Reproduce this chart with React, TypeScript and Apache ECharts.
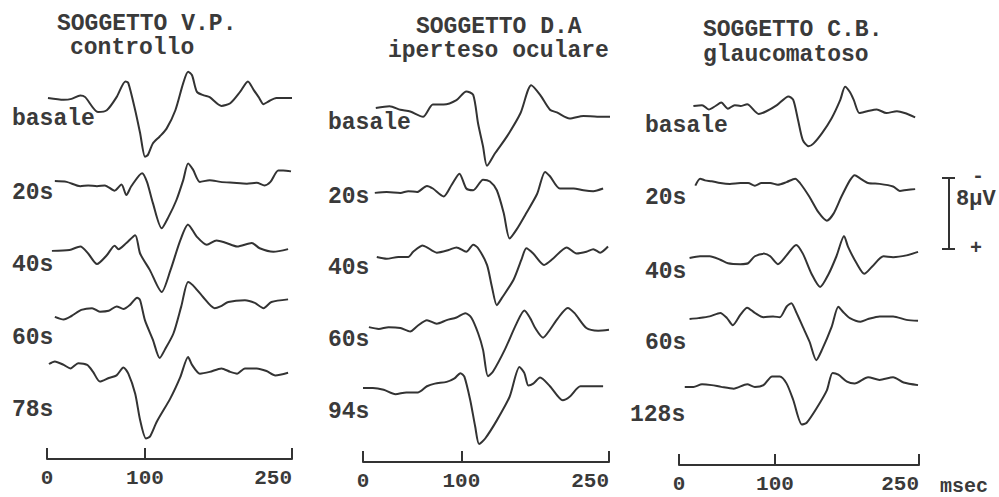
import React, { useEffect, useRef } from "react";
import * as echarts from "echarts";

// ---------- DATA (time in msec, amplitude in µV, positive = downward "+") ----------
const TICKS = [0, 100, 250];
const TICK_LABELS = ["0", "100", "250"];
const ROW_LABELS = [
  ["basale", "20s", "40s", "60s", "78s"],
  ["basale", "20s", "40s", "60s", "94s"],
  ["basale", "20s", "40s", "60s", "128s"],
];
const TITLES = [
  ["SOGGETTO V.P.", "controllo"],
  ["SOGGETTO D.A", "iperteso oculare"],
  ["SOGGETTO C.B.", "glaucomatoso"],
];

// Subject V.P. (controllo)
const vpBasale = [[1,0],[17,0.2],[25,0.1],[34,-0.3],[39,-0.1],[52,1.6],[61,1.4],[71,-0.1],[80,-1.9],[83,-1.7],[90,1.4],[95,4.0],[100,6.7],[103,6.5],[108,5.2],[115,4.4],[122,3.5],[131,1.4],[139,-1.7],[144,-3.0],[148,-2.6],[153,-0.7],[160,-0.3],[166,-0.1],[178,0.9],[187,0.6],[197,-0.7],[205,-1.9],[211,-0.9],[216,-0.1],[221,0.7],[226,0.4],[234,0.0],[250,0.0]];
const vp20 = [[8,0],[20,0.1],[34,0.6],[42,0.5],[51,0.6],[59,0.5],[69,1.1],[76,0.4],[81,1.6],[86,0.6],[97,-0.9],[102,0.1],[108,2.5],[117,5.4],[124,4.1],[132,2.2],[139,-0.1],[144,-2.0],[149,-1.3],[156,0.1],[166,-0.1],[177,0.1],[190,0.2],[204,0.3],[214,0.2],[222,0.5],[228,0.1],[236,-1.2],[241,-1.2],[249,-1.1]];
const vp40 = [[5,0.1],[23,0.0],[34,-0.4],[42,0.4],[51,1.6],[61,0.6],[69,-0.5],[73,-0.1],[81,-0.8],[90,-1.7],[95,0.4],[105,2.3],[117,4.8],[126,2.3],[136,-1.1],[144,-2.9],[153,-1.5],[163,-0.6],[173,-1.1],[183,-0.8],[194,-0.4],[209,-0.8],[217,-0.2],[231,0.2],[246,-0.1]];
const vp60 = [[8,0.1],[17,0.4],[25,0.0],[35,-0.7],[46,-0.9],[54,-0.5],[63,-0.6],[71,-1.1],[78,-0.8],[85,-1.3],[92,-2.1],[95,-1.8],[100,0.5],[108,2.7],[115,4.8],[120,3.9],[129,2.0],[137,-1.1],[144,-3.9],[149,-3.5],[159,-2.2],[171,-0.9],[177,-1.1],[185,-1.6],[202,-1.8],[212,-1.5],[221,-0.9],[229,-1.6],[246,-1.9]];
const vp78 = [[2,0.0],[8,-0.3],[17,0.1],[24,0.5],[32,-0.1],[41,0.1],[47,0.9],[54,2.0],[63,1.6],[71,1.3],[78,0.4],[83,1.1],[90,3.4],[95,6.4],[101,8.5],[105,8.3],[112,6.6],[126,3.9],[136,1.5],[144,-0.8],[148,0.1],[156,1.1],[166,0.9],[178,0.5],[187,0.9],[194,1.1],[202,0.5],[214,0.5],[224,0.8],[233,1.3],[246,1.0]];

// Subject D.A (iperteso oculare)
const daBasale = [[13,0.0],[27,-0.2],[38,0.2],[48,0.4],[61,1.0],[71,-0.4],[82,-0.4],[95,-0.9],[105,-1.9],[112,-1.5],[117,1.8],[122,4.4],[126,6.6],[134,5.2],[146,3.3],[160,0.6],[171,-2.6],[180,-1.5],[190,0.2],[197,0.5],[210,1.2],[224,0.9],[238,1.0],[252,1.0]];
const da20 = [[12,0.1],[24,0.0],[38,0.1],[46,-0.1],[55,0.0],[65,-0.7],[71,-0.4],[82,0.5],[90,-0.8],[98,-2.1],[105,-0.4],[112,-0.2],[122,-1.4],[129,-1.2],[136,-0.2],[143,2.4],[149,5.3],[156,4.3],[166,2.4],[177,0.2],[185,-2.3],[190,-1.8],[200,-0.4],[214,-0.4],[224,-0.2],[234,-0.1],[244,-0.4]];
const da40 = [[14,0.0],[24,0.2],[36,0.0],[46,0.0],[51,-0.6],[61,-1.3],[75,-0.5],[87,-0.8],[95,-1.1],[105,-0.6],[112,-1.4],[117,-1.0],[126,0.9],[131,3.4],[136,5.5],[141,4.7],[153,2.6],[161,0.3],[166,-1.0],[173,-0.4],[184,0.9],[193,0.2],[207,-1.1],[217,-0.4],[227,-0.6],[234,-0.9],[241,-0.5],[249,-1.2]];
const da60 = [[6,-0.1],[16,0.1],[26,-0.1],[38,0.0],[48,0.4],[55,-0.2],[65,-0.9],[75,-0.5],[85,-0.9],[95,-1.2],[104,-1.7],[110,-1.2],[117,0.6],[122,2.5],[127,5.5],[132,5.0],[144,2.5],[156,-0.5],[164,-2.0],[170,-1.1],[175,0.0],[183,1.1],[190,0.2],[198,-1.1],[208,-2.3],[215,-1.7],[227,0.0],[239,0.3],[250,0.2]];
const da94 = [[0,0.0],[10,0.0],[21,0.2],[33,0.7],[44,0.5],[56,0.5],[65,-0.2],[73,-0.5],[85,-0.7],[93,-1.1],[99,-1.7],[103,-1.3],[109,1.4],[114,4.4],[118,6.4],[124,5.8],[136,3.7],[149,1.0],[159,-2.4],[164,-1.7],[168,-0.3],[173,-0.5],[180,-1.2],[190,-0.2],[203,1.4],[210,1.0],[221,-0.2],[231,-0.2],[244,-0.2]];

// Subject C.B. (glaucomatoso)
const cbBasale = [[15,0.0],[24,-0.1],[31,0.4],[38,0.0],[44,-0.4],[51,0.3],[58,-0.1],[64,0.0],[71,-0.2],[83,0.9],[91,0.6],[102,-0.1],[114,-1.1],[119,-0.7],[124,1.6],[129,3.9],[135,4.6],[140,4.3],[149,3.1],[159,1.4],[168,-0.7],[173,-2.2],[178,-1.6],[182,-0.7],[188,0.8],[196,0.6],[206,0.4],[216,0.8],[227,0.6],[235,0.8],[246,1.3]];
const cb20 = [[17,0.3],[22,-0.5],[27,-0.3],[34,-0.2],[43,0.0],[53,0.1],[64,0.0],[72,0.0],[79,0.3],[86,0.0],[95,0.0],[103,0.2],[112,-0.1],[121,-0.5],[126,0.0],[136,1.6],[145,3.3],[154,4.3],[161,3.5],[169,1.6],[178,-0.3],[183,-0.9],[189,-0.5],[197,0.0],[209,0.1],[223,0.4],[230,0.9],[237,0.8],[246,0.7]];
const cb40 = [[11,0.0],[22,-0.2],[32,-0.2],[43,0.2],[51,0.6],[64,0.7],[72,0.6],[79,-0.2],[89,-0.5],[95,-0.2],[103,0.7],[112,-0.3],[122,-1.5],[129,-0.5],[138,1.8],[147,3.3],[156,1.8],[164,-0.2],[172,-2.5],[176,-1.3],[185,0.6],[193,1.8],[201,1.0],[213,-0.2],[223,-0.1],[237,-0.3],[249,-0.7]];
const cb60 = [[11,0.0],[20,-0.1],[32,-0.3],[43,-0.7],[50,-0.1],[56,0.7],[64,-0.5],[71,-1.3],[79,-0.7],[88,-0.2],[98,-0.3],[105,-0.2],[112,-1.4],[117,-1.8],[122,-0.8],[129,0.9],[136,2.6],[143,4.7],[149,3.5],[159,0.9],[166,-1.4],[171,-0.8],[178,-0.1],[189,0.3],[197,0.0],[209,-0.3],[223,-0.3],[237,0.1],[249,0.2]];
const cb128 = [[6,0.1],[15,0.1],[24,-0.2],[34,-0.1],[44,0.1],[57,0.3],[71,-0.2],[79,0.1],[88,-0.1],[97,-1.1],[105,-1.1],[112,-0.3],[119,1.6],[128,4.4],[133,4.2],[143,2.6],[154,0.5],[160,-1.5],[166,-1.3],[175,-0.5],[183,-0.3],[197,-1.0],[209,-0.7],[223,-1.0],[234,-0.4],[249,-0.1]];

const TRACES = [
  [vpBasale, vp20, vp40, vp60, vp78],
  [daBasale, da20, da40, da60, da94],
  [cbBasale, cb20, cb40, cb60, cb128],
];

// ---------- LAYOUT ----------
const FONT = '"Liberation Mono", "DejaVu Sans Mono", monospace';
const INK = "#333333";
const TEXT = "#3a3a3a";
const TOP = 60;
const PX_PER_UV = 8.75;
const PANELS = [
  { left: 47, width: 245, axisY: 459, baselines: [98, 181, 250, 316, 364],
    labelX: [12, 12, 12, 12, 12], labelY: [119, 193, 265, 338, 410],
    titleX: [57, 70], titleY: [24, 48] },
  { left: 363, width: 246, axisY: 462, baselines: [108, 192, 257, 328, 388],
    labelX: [328, 328, 328, 328, 328], labelY: [123, 197, 268, 340, 412],
    titleX: [416, 388], titleY: [27, 51] },
  { left: 679, width: 240, axisY: 465, baselines: [106, 183, 258, 319, 386],
    labelX: [645, 645, 645, 645, 630], labelY: [126, 198, 272, 343, 415],
    titleX: [703, 703], titleY: [30, 55] },
];

function buildOption() {
  const grid: any[] = [];
  const xAxis: any[] = [];
  const yAxis: any[] = [];
  const series: any[] = [];
  const graphic: any[] = [];

  PANELS.forEach((p, pi) => {
    const h = p.axisY - TOP;
    grid.push({ left: p.left, top: TOP, width: p.width, height: h, containLabel: false, outerBoundsMode: "none" });
    xAxis.push({
      type: "value", gridIndex: pi, min: 0, max: 250, position: "bottom",
      axisLine: { show: true, onZero: false, lineStyle: { color: INK, width: 2 } },
      axisTick: { show: true, inside: true, length: 11, customValues: TICKS, lineStyle: { color: INK, width: 2 } },
      axisLabel: {
        show: true, customValues: TICKS, margin: 9, alignMaxLabel: "right",
        formatter: (v: number) => TICK_LABELS[TICKS.indexOf(v)] ?? "",
        color: TEXT, fontFamily: FONT, fontWeight: "bold", fontSize: 21, lineHeight: 21,
      },
      splitLine: { show: false },
    });
    yAxis.push({ type: "value", gridIndex: pi, min: 0, max: h / PX_PER_UV, inverse: true, show: false });

    TRACES[pi].forEach((trace, ti) => {
      const offset = (p.baselines[ti] - TOP) / PX_PER_UV;
      series.push({
        type: "line", xAxisIndex: pi, yAxisIndex: pi, name: ROW_LABELS[pi][ti],
        data: trace.map(([t, v]) => [t, v + offset]),
        showSymbol: false, smooth: 0.25,
        lineStyle: { color: INK, width: 2 }, silent: true,
      });
      graphic.push({
        type: "text", left: p.labelX[ti], top: p.labelY[ti] - 12,
        style: { text: ROW_LABELS[pi][ti], fill: TEXT, font: `bold 23px ${FONT}` },
      });
    });

    TITLES[pi].forEach((t, k) => {
      graphic.push({
        type: "text", left: p.titleX[k], top: p.titleY[k] - 12,
        style: { text: t, fill: TEXT, font: `bold 23px ${FONT}` },
      });
    });
  });

  // msec unit
  graphic.push({ type: "text", left: 940, top: 476, style: { text: "msec", fill: TEXT, font: `bold 20px ${FONT}` } });
  // scale bar 8 µV
  graphic.push({ type: "line", shape: { x1: 949, y1: 178, x2: 949, y2: 249 }, style: { stroke: INK, lineWidth: 2 } });
  graphic.push({ type: "line", shape: { x1: 942, y1: 178, x2: 955, y2: 178 }, style: { stroke: INK, lineWidth: 2 } });
  graphic.push({ type: "line", shape: { x1: 942, y1: 249, x2: 955, y2: 249 }, style: { stroke: INK, lineWidth: 2 } });
  graphic.push({ type: "text", left: 972, top: 166, style: { text: "-", fill: TEXT, font: `bold 20px ${FONT}` } });
  graphic.push({ type: "text", left: 970, top: 238, style: { text: "+", fill: TEXT, font: `bold 20px ${FONT}` } });
  graphic.push({ type: "text", left: 956, top: 188, style: { text: "8µV", fill: TEXT, font: `bold 22px ${FONT}` } });

  return { animation: false, backgroundColor: "#ffffff", grid, xAxis, yAxis, series, graphic };
}

export default function App() {
  const ref = useRef<HTMLDivElement>(null);
  useEffect(() => {
    if (!ref.current) return;
    const chart = echarts.init(ref.current, undefined, { renderer: "svg" });
    chart.setOption(buildOption() as any);
    return () => chart.dispose();
  }, []);
  return <div ref={ref} style={{ width: 999, height: 497, position: "absolute", left: 0, top: 0 }} />;
}
